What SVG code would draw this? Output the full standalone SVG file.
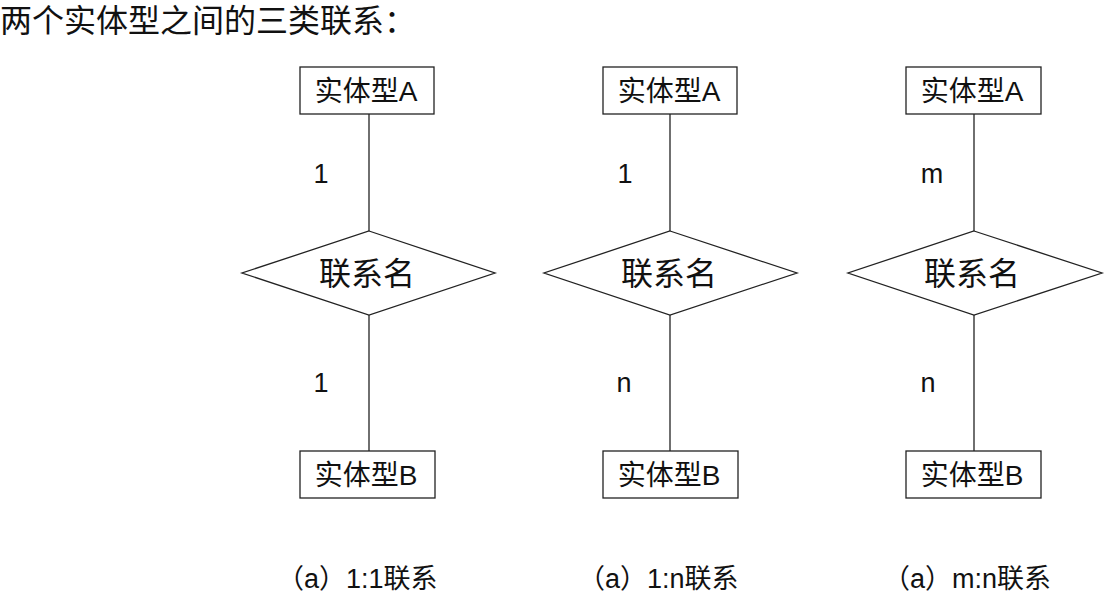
<svg xmlns="http://www.w3.org/2000/svg" width="1120" height="603" viewBox="0 0 1120 603">
<style>
.box{fill:#fff;stroke:#222;stroke-width:1.3}
.dia{fill:#fff;stroke:#222;stroke-width:1.3}
.ln{stroke:#222;stroke-width:1.3;fill:none}
text{font-family:"Liberation Sans","Noto Sans CJK SC",sans-serif;fill:#111}
.et{font-size:28px;text-anchor:middle}
.rt{font-size:32px;text-anchor:middle}
.card{font-size:27px;text-anchor:middle}
.cap{font-size:27px}
</style>
<rect width="1120" height="603" fill="#fff"/>
<text x="0" y="32" style="font-size:32px">两个实体型之间的三类联系：</text>
<g id="connectors">
<line class="ln" x1="369" y1="114" x2="369" y2="231"/>
<line class="ln" x1="369" y1="315" x2="369" y2="451"/>
<line class="ln" x1="670" y1="114" x2="670" y2="231"/>
<line class="ln" x1="670" y1="315" x2="670" y2="451"/>
<line class="ln" x1="974" y1="114" x2="974" y2="231"/>
<line class="ln" x1="974" y1="315" x2="974" y2="451"/>
</g>
<g id="a1"><rect class="box" x="300" y="67" width="134" height="47"/><text class="et" x="366" y="101">实体型A</text></g>
<g id="r1"><polygon class="dia" points="369,231 495,273 369,315 242,273"/><text class="rt" x="367" y="285">联系名</text></g>
<g id="b1"><rect class="box" x="300" y="451" width="135" height="47"/><text class="et" x="366" y="485">实体型B</text></g>
<text class="card" x="321" y="183">1</text>
<text class="card" x="321" y="392">1</text>
<g id="a2"><rect class="box" x="603" y="67" width="134" height="47"/><text class="et" x="669" y="101">实体型A</text></g>
<g id="r2"><polygon class="dia" points="670,231 797,273 670,315 544,273"/><text class="rt" x="669" y="285">联系名</text></g>
<g id="b2"><rect class="box" x="603" y="451" width="135" height="47"/><text class="et" x="669" y="485">实体型B</text></g>
<text class="card" x="625" y="183">1</text>
<text class="card" x="624" y="392">n</text>
<g id="a3"><rect class="box" x="906" y="67" width="135" height="47"/><text class="et" x="972" y="101">实体型A</text></g>
<g id="r3"><polygon class="dia" points="974,231 1102,273 974,315 848,273"/><text class="rt" x="972" y="285">联系名</text></g>
<g id="b3"><rect class="box" x="906" y="451" width="135" height="47"/><text class="et" x="972" y="485">实体型B</text></g>
<text class="card" x="932" y="183">m</text>
<text class="card" x="928" y="392">n</text>
<text class="cap" x="277" y="588">（a）1:1联系</text>
<text class="cap" x="578" y="588">（a）1:n联系</text>
<text class="cap" x="883" y="588">（a）m:n联系</text>
</svg>
